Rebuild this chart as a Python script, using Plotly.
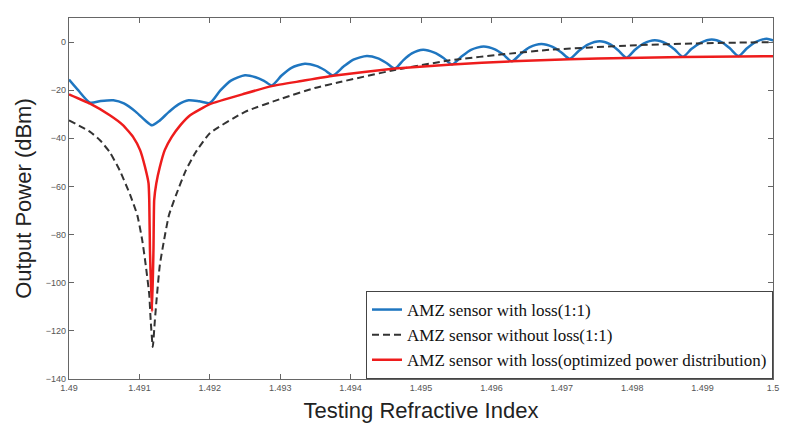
import plotly.graph_objects as go

# ---------------- data ----------------
blue_x = [1.4900, 1.49013, 1.4903, 1.49045, 1.49063, 1.49078, 1.49095, 1.49108, 1.49118,
          1.49128, 1.49142, 1.49155, 1.4917, 1.49185, 1.4920,
          1.49215, 1.4923, 1.4925, 1.49265, 1.49277, 1.49288,
          1.49302, 1.49316, 1.49335, 1.49351, 1.49363, 1.49375,
          1.4939, 1.49404, 1.49423, 1.49439, 1.49451, 1.49463,
          1.49475, 1.49487, 1.49503, 1.49519, 1.49532, 1.49544,
          1.49558, 1.49571, 1.49589, 1.49605, 1.49617, 1.49629,
          1.49642, 1.49654, 1.49671, 1.49687, 1.49699, 1.49711,
          1.49724, 1.49737, 1.49754, 1.49769, 1.4978, 1.49792,
          1.49804, 1.49816, 1.49832, 1.49848, 1.4986, 1.49872,
          1.49884, 1.49897, 1.49913, 1.49928, 1.49939, 1.49951,
          1.49963, 1.49975, 1.49991, 1.5000]
blue_y = [-15.6, -20.0, -25.2, -24.5, -24.2, -25.5, -29.0, -32.5, -34.6,
          -32.8, -29.0, -26.0, -24.2, -24.6, -25.3,
          -20.1, -16.0, -13.8, -14.6, -16.1, -18.0,
          -13.9, -10.7, -9.0, -9.9, -11.6, -13.8,
          -10.2, -7.3, -5.8, -6.8, -8.7, -11.0,
          -7.5, -4.7, -3.2, -4.4, -6.6, -9.3,
          -5.9, -3.2, -1.8, -3.0, -5.2, -8.0,
          -4.8, -2.2, -0.8, -2.0, -4.2, -6.9,
          -3.7, -1.1, 0.3, -1.0, -3.4, -6.5,
          -3.2, -0.6, 0.8, -0.5, -3.0, -6.1,
          -2.9, -0.3, 1.1, -0.2, -2.7, -5.8,
          -2.6, 0.0, 1.4, 0.7]

dash_x = [1.4900, 1.4903, 1.49044, 1.49058, 1.49072, 1.49087, 1.49097, 1.49104, 1.49109,
          1.49114, 1.49116, 1.49119, 1.49122, 1.49125, 1.49129, 1.49135, 1.49142,
          1.49152, 1.49166, 1.4918, 1.4920, 1.4925, 1.49302, 1.49349, 1.49385,
          1.49461, 1.49541, 1.49626, 1.49683, 1.49797, 1.4990, 1.5000]
dash_y = [-32.5, -37.3, -40.8, -45.8, -53.3, -63.6, -71.9, -82.3, -92.7,
          -105.0, -115.5, -126.7, -115.5, -105.0, -92.7, -82.3, -71.9,
          -63.6, -53.3, -45.8, -37.9, -29.0, -23.5, -19.1, -16.6,
          -11.7, -7.6, -4.8, -3.2, -1.4, -0.5, 0.0]

red_x = [1.4900, 1.4903, 1.49058, 1.49077, 1.49091, 1.49101, 1.49108, 1.49113, 1.49114,
         1.49115, 1.49118, 1.49120, 1.49121, 1.49124, 1.49129, 1.49136, 1.49146,
         1.49158, 1.49172, 1.4920, 1.4925, 1.49288, 1.4933, 1.49375, 1.49463,
         1.49544, 1.49629, 1.49711, 1.49792, 1.49872, 1.49951, 1.5000]
red_y = [-21.7, -25.6, -30.4, -34.6, -39.4, -44.9, -51.9, -58.7, -65.7,
         -86.4, -112.0, -86.0, -65.7, -58.7, -51.9, -44.9, -39.4,
         -34.6, -30.4, -25.8, -21.4, -18.3, -16.2, -14.0, -11.0,
         -9.3, -8.0, -7.1, -6.6, -6.2, -6.0, -5.9]

x_ticks = [1.490, 1.491, 1.492, 1.493, 1.494, 1.495, 1.496, 1.497, 1.498, 1.499, 1.500]
x_tick_labels = ["1.49", "1.491", "1.492", "1.493", "1.494", "1.495",
                 "1.496", "1.497", "1.498", "1.499", "1.5"]
y_ticks = [0, -20, -40, -60, -80, -100, -120, -140]

series_names = ["AMZ sensor with loss(1:1)",
                "AMZ sensor without loss(1:1)",
                "AMZ sensor with loss(optimized power distribution)"]

# ---------------- figure ----------------
fig = go.Figure()
fig.add_trace(go.Scatter(x=blue_x, y=blue_y, mode="lines", name=series_names[0],
                         line=dict(color="#1f76c0", width=2.5, shape="spline", smoothing=0.7)))
fig.add_trace(go.Scatter(x=dash_x, y=dash_y, mode="lines", name=series_names[1],
                         line=dict(color="#333333", width=2, dash="7px,4px", shape="spline", smoothing=0.5)))
fig.add_trace(go.Scatter(x=red_x, y=red_y, mode="lines", name=series_names[2],
                         line=dict(color="#ee1c1c", width=2.5, shape="spline", smoothing=0.4)))

axis_common = dict(showgrid=False, zeroline=False, showline=True, linecolor="#666666",
                   linewidth=1.2, mirror="ticks", ticks="inside", ticklen=5,
                   tickcolor="#666666", tickfont=dict(family="Liberation Sans", size=9, color="#555555"))

fig.update_xaxes(range=[1.49, 1.5], tickvals=x_ticks, ticktext=x_tick_labels,
                 title=dict(text="Testing Refractive Index", standoff=10,
                            font=dict(family="Liberation Sans", size=22, color="#222222")),
                 **axis_common)
fig.update_yaxes(range=[-140, 10], tickvals=y_ticks,
                 title=dict(text="Output Power (dBm)", standoff=8,
                            font=dict(family="Liberation Sans", size=22, color="#222222")),
                 **axis_common)

fig.update_layout(
    width=792, height=433,
    margin=dict(l=69, r=19, t=18, b=54, autoexpand=False),
    plot_bgcolor="white", paper_bgcolor="white",
    showlegend=True,
    legend=dict(x=1, y=0, xanchor="right", yanchor="bottom",
                bgcolor="white", bordercolor="#444444", borderwidth=1,
                font=dict(family="Liberation Serif", size=17, color="#111111"),
                itemwidth=30, tracegroupgap=0),
)

fig.write_html("out.html", config={"displayModeBar": False},
               post_script="document.body.style.margin='0px';")
